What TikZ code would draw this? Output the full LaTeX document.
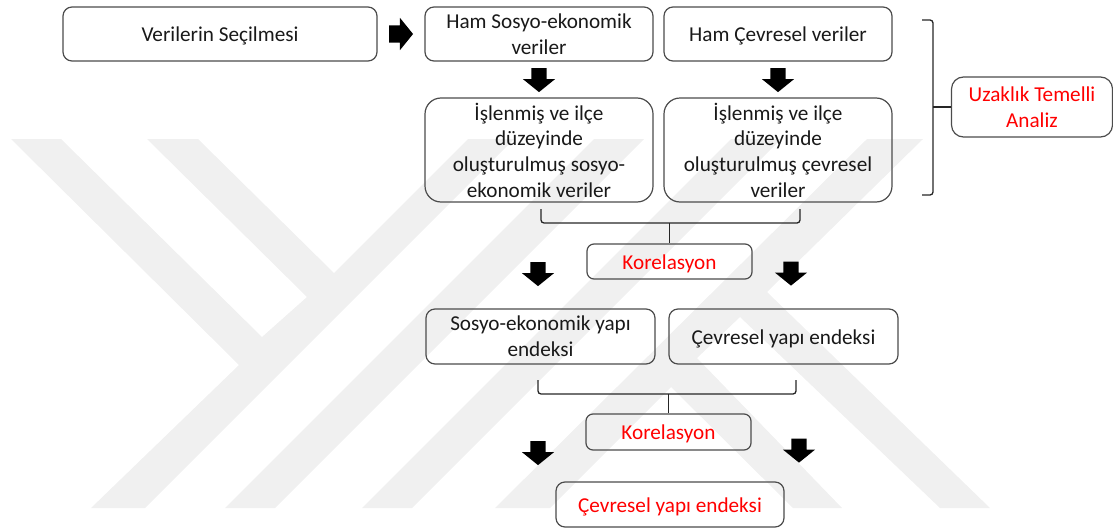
\documentclass[tikz,border=0pt]{standalone}
\usepackage{fontspec}
\setmainfont{Carlito}
\usetikzlibrary{shapes.arrows}

\begin{document}
\begin{tikzpicture}[x=1pt,y=-1pt]
            \tikzstyle{filigran}=[fill=black!6,draw=none]
            \tikzstyle{kutu}=[draw=black!70,line width=1.2pt,rounded corners=9pt,inner sep=0pt,align=center,minimum width=228pt,minimum height=54pt,font=\fontsize{21.2}{25.7}\selectfont,text=black!90]
            \tikzstyle{teksatir}=[text height=16pt,text depth=1pt]
            \tikzstyle{buyukkutu}=[kutu,rounded corners=16pt,minimum height=104pt]
            \tikzstyle{kirmizikutu}=[kutu,text=red,minimum width=165pt,minimum height=35pt,rounded corners=7pt]
            \tikzstyle{blokok}=[single arrow,fill=black,inner sep=0pt,text height=15pt,text depth=0pt,text width=0pt,minimum height=24pt,minimum width=32pt,single arrow head extend=8.5pt,single arrow head indent=0pt,single arrow tip angle=102,rotate=-90]
            \tikzstyle{parantez}=[draw=black!85,line width=1.3pt,rounded corners=3pt]
            \useasboundingbox (0,0) rectangle (1113,530);
            \fill[filigran] (11,139) -- (61,139) -- (262,337) -- (307,297) -- (147,139) -- (198,139) -- (334,273) -- (468,139) -- (514,139) -- (145,508) -- (91,508) -- (239,365) -- cycle;
            \fill[filigran] (225,508) -- (275,508) -- (644,139) -- (594,139) -- cycle;
            \fill[filigran] (362,508) -- (412,508) -- (781,139) -- (731,139) -- cycle;
            \fill[filigran] (867,139) -- (923,139) -- (767,292) -- (990,508) -- (940,508) -- (740,317) -- (697,358) -- (842,508) -- (793,508) -- (671,387) -- (550,508) -- (495,508) -- cycle;
            \node[kutu,teksatir,minimum width=314pt] (secim) at (220,34) {Verilerin Seçilmesi};
            \node[kutu] (hamsosyo) at (539,34) {Ham Sosyo-ekonomik\\veriler};
            \node[kutu,teksatir] (hamcevre) at (778,34) {Ham Çevresel veriler};
            \node[buyukkutu] (islsosyo) at (539,150) {İşlenmiş ve ilçe\\düzeyinde\\oluşturulmuş sosyo-\\ekonomik veriler};
            \node[buyukkutu] (islcevre) at (778,150) {İşlenmiş ve ilçe\\düzeyinde\\oluşturulmuş çevresel\\veriler};
            \node[kirmizikutu,minimum width=161pt,minimum height=60pt,rounded corners=12pt] (uzaklik) at (1032,107) {Uzaklık Temelli\\Analiz};
            \node[kirmizikutu,teksatir] (korel1) at (669.5,261.5) {Korelasyon};
            \node[kutu,minimum width=229pt,minimum height=55pt] (endsosyo) at (540.5,336.5) {Sosyo-ekonomik yapı\\endeksi};
            \node[kutu,teksatir,minimum width=229pt,minimum height=55pt] (endcevre) at (783.5,336.5) {Çevresel yapı endeksi};
            \node[kirmizikutu,teksatir,minimum height=36pt] (korel2) at (668.5,432) {Korelasyon};
            \node[kirmizikutu,teksatir,minimum width=228pt,minimum height=45pt,rounded corners=9pt] (sonuc) at (670,504.5) {Çevresel yapı endeksi};
            \node[blokok,rotate=90,text height=17pt,single arrow head extend=7.5pt] (ok1) at (397.5,34) {};
            \node[blokok] (ok2) at (539,77) {};
            \node[blokok] (ok3) at (778,77) {};
            \node[blokok] (ok4) at (538,271) {};
            \node[blokok] (ok5) at (791,270.5) {};
            \node[blokok] (ok6) at (538,450) {};
            \node[blokok] (ok7) at (799,447.5) {};
            \coordinate (p1a) at (541,209);
            \coordinate (p1b) at (800,209);
            \coordinate (p1m) at (669.5,223);
            \coordinate (p2a) at (538,380);
            \coordinate (p2b) at (796,380);
            \coordinate (p2m) at (668.5,394);
            \coordinate (p3a) at (922,20);
            \coordinate (p3b) at (922,195);
            \coordinate (p3m) at (933,107);
            \draw[parantez] (p1a) |- (p1m) -| (p1b);
            \draw[parantez] (p1m) -- (korel1.north);
            \draw[parantez] (p2a) |- (p2m) -| (p2b);
            \draw[parantez] (p2m) -- (korel2.north);
            \draw[parantez] (p3a) -| (p3m) |- (p3b);
            \draw[parantez] (p3m) -- (uzaklik.west);
        \end{tikzpicture}
\end{document}
